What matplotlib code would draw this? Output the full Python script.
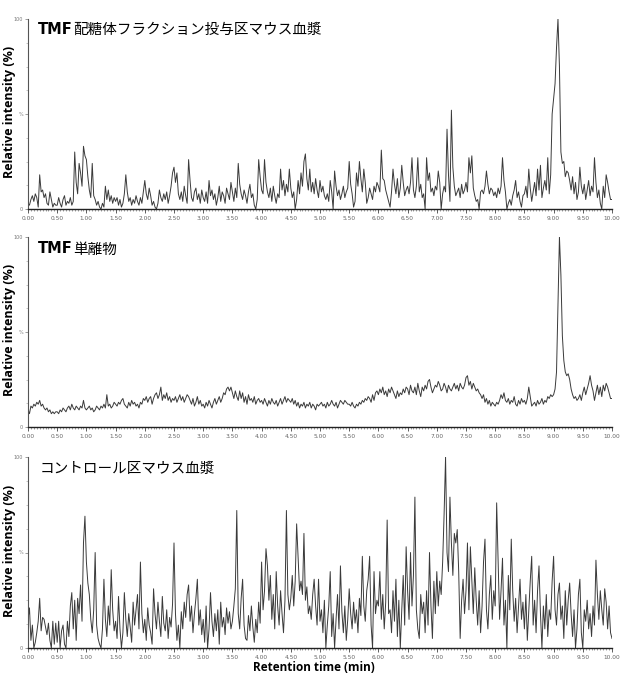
import numpy as np
import matplotlib
matplotlib.use("Agg")
import matplotlib.pyplot as plt
from matplotlib.ticker import MultipleLocator

# Retention time grid (min)
time_min = np.round(np.arange(0, 10.0001, 0.025), 3)

# Panel titles
titles = ["TMF配糖体フラクション投与区マウス血漿", "TMF単離物", "コントロール区マウス血漿"]

# Relative intensity (%) - TMF glycoside fraction, mouse plasma
tmf_fraction = [
    3, 2, 5, 7, 4, 8, 6, 1, 18, 9, 10, 6, 8, 3, 2, 9, 5, 1, 3, 2,
    2, 6, 3, 1, 5, 7, 2, 4, 3, 6, 2, 4, 30, 14, 8, 24, 19, 12, 33, 28,
    26, 17, 10, 6, 24, 7, 5, 2, 4, 1, 0, 3, 1, 12, 5, 10, 4, 7, 3, 6,
    4, 6, 2, 5, 1, 3, 8, 18, 9, 4, 6, 2, 5, 3, 7, 4, 2, 6, 3, 9,
    15, 8, 5, 11, 7, 2, 4, 1, 0, 3, 10, 6, 4, 8, 5, 9, 3, 7, 12, 19,
    22, 14, 19, 8, 5, 9, 4, 12, 7, 3, 26, 15, 6, 4, 9, 11, 5, 8, 3, 10,
    6, 4, 9, 3, 15, 7, 10, 5, 8, 2, 6, 12, 4, 9, 7, 3, 11, 8, 5, 14,
    9, 4, 11, 6, 24, 13, 8, 5, 10, 7, 3, 9, 13, 6, 8, 2, 0, 5, 26, 17,
    10, 8, 26, 14, 9, 6, 11, 4, 12, 7, 3, 8, 6, 21, 10, 15, 7, 13, 9, 21,
    11, 6, 9, 0, 5, 15, 8, 19, 12, 25, 29, 16, 10, 21, 9, 14, 8, 16, 10, 6,
    15, 9, 12, 7, 5, 8, 4, 15, 9, 0, 20, 12, 7, 10, 5, 8, 12, 6, 9, 11,
    25, 13, 8, 1, 4, 19, 12, 25, 16, 9, 21, 14, 3, 6, 11, 8, 5, 12, 9, 14,
    12, 9, 31, 16, 15, 10, 7, 4, 1, 9, 21, 13, 8, 16, 6, 11, 23, 14, 7, 10,
    12, 8, 14, 27, 10, 6, 12, 27, 9, 13, 6, 8, 0, 27, 15, 19, 9, 11, 7, 12,
    10, 20, 14, 0, 8, 12, 9, 42, 18, 4, 52, 22, 12, 7, 9, 11, 6, 13, 8, 10,
    14, 9, 27, 19, 28, 11, 7, 4, 5, 0, 9, 10, 8, 12, 20, 13, 8, 11, 10, 7,
    9, 6, 11, 8, 12, 27, 15, 9, 0, 3, 5, 2, 7, 10, 15, 6, 9, 4, 1, 7,
    8, 12, 6, 21, 11, 4, 9, 14, 7, 21, 10, 23, 6, 11, 15, 10, 27, 8, 18, 50,
    58, 66, 85, 100, 75, 30, 24, 25, 17, 20, 19, 15, 10, 17, 8, 14, 5, 9, 22, 12,
    8, 13, 5, 10, 15, 7, 12, 9, 27, 14, 6, 10, 3, 0, 12, 6, 18, 14, 9, 5,
    5,
]

# Relative intensity (%) - TMF isolate
tmf_isolate = [
    9, 7, 11, 10, 12, 11, 13, 12, 14, 11, 12, 10, 9, 10, 8, 9, 7, 8, 7, 8,
    8, 7, 9, 8, 10, 9, 8, 10, 11, 9, 12, 10, 9, 11, 10, 9, 11, 10, 14, 10,
    9, 10, 11, 9, 10, 8, 9, 11, 10, 9, 11, 10, 12, 10, 17, 11, 12, 10, 11, 13,
    12, 11, 13, 12, 14, 15, 12, 11, 10, 13, 11, 14, 12, 13, 11, 12, 10, 13, 12, 15,
    14, 16, 13, 15, 16, 12, 15, 17, 18, 15, 17, 21, 14, 17, 15, 18, 14, 16, 13, 15,
    14, 16, 13, 15, 17, 14, 16, 13, 15, 17, 16, 14, 12, 15, 11, 13, 16, 12, 14, 11,
    12, 10, 13, 11, 14, 12, 10, 13, 15, 12, 14, 16, 13, 15, 18, 17, 20, 21, 19, 21,
    18, 15, 19, 16, 14, 19, 15, 18, 13, 16, 12, 17, 14, 15, 13, 16, 12, 14, 15, 13,
    14, 12, 15, 13, 11, 14, 12, 15, 13, 12, 14, 11, 13, 15, 12, 14, 16, 13, 15, 14,
    13, 15, 12, 14, 11, 13, 10, 12, 11, 13, 10, 12, 11, 13, 10, 12, 11, 9, 12, 11,
    12, 13, 11, 12, 10, 13, 11, 12, 14, 12, 11, 13, 10, 12, 14, 13, 12, 14, 13, 12,
    12, 11, 13, 11, 10, 12, 11, 13, 12, 14, 13, 15, 14, 16, 15, 13, 17, 14, 18, 19,
    17, 20, 18, 21, 17, 19, 16, 20, 18, 21, 19, 17, 15, 19, 16, 18, 17, 20, 18, 21,
    20, 17, 22, 19, 18, 21, 17, 23, 19, 16, 21, 19, 22, 20, 24, 25, 21, 18, 20, 22,
    21, 24, 22, 19, 20, 23, 21, 18, 22, 20, 19, 21, 23, 20, 22, 19, 23, 21, 20, 22,
    26, 27, 22, 24, 20, 23, 21, 19, 20, 18, 17, 15, 17, 13, 15, 12, 14, 11, 13, 12,
    11, 13, 12, 14, 17, 15, 18, 14, 13, 15, 12, 14, 13, 16, 12, 11, 14, 12, 15, 13,
    14, 12, 15, 21, 16, 11, 12, 13, 11, 14, 12, 13, 15, 12, 14, 13, 16, 15, 17, 16,
    17, 20, 29, 65, 100, 80, 48, 35, 29, 27, 28, 25, 20, 17, 15, 16, 14, 15, 17, 14,
    18, 21, 17, 20, 23, 27, 22, 19, 14, 18, 22, 17, 21, 16, 22, 19, 23, 21, 18, 15,
    15,
]

# Relative intensity (%) - control mouse plasma
control = [
    15, 21, 4, 12, 0, 3, 8, 14, 26, 9, 16, 15, 11, 7, 13, 4, 0, 14, 2, 13,
    3, 14, 0, 9, 12, 2, 0, 14, 6, 22, 29, 10, 25, 4, 26, 18, 33, 14, 55, 69,
    45, 34, 28, 15, 8, 20, 50, 12, 5, 2, 0, 10, 36, 15, 6, 22, 12, 41, 20, 9,
    14, 5, 27, 10, 0, 8, 29, 15, 6, 18, 11, 3, 24, 12, 20, 28, 10, 45, 18, 8,
    15, 4, 21, 12, 8, 2, 31, 18, 10, 24, 14, 6, 27, 13, 9, 20, 5, 16, 11, 23,
    55, 18, 4, 12, 0, 19, 10, 24, 16, 28, 33, 14, 22, 8, 18, 26, 36, 12, 20, 7,
    15, 3, 22, 0, 10, 29, 14, 6, 18, 9, 20, 2, 24, 11, 16, 7, 21, 13, 19, 10,
    14, 22, 31, 72, 18, 10, 26, 36, 12, 5, 4, 17, 9, 22, 11, 3, 15, 8, 24, 13,
    45, 20, 30, 52, 43, 25, 38, 15, 28, 10, 40, 22, 12, 30, 18, 8, 25, 72, 28, 20,
    26, 38, 22, 35, 65, 48, 30, 35, 28, 60, 25, 32, 18, 22, 15, 28, 36, 22, 12, 36,
    14, 20, 8, 25, 0, 12, 22, 40, 6, 18, 0, 15, 28, 10, 43, 19, 8, 22, 4, 15,
    31, 18, 10, 24, 13, 20, 8, 26, 17, 48, 22, 14, 30, 36, 48, 12, 0, 40, 18, 25,
    22, 40, 15, 28, 10, 24, 67, 18, 20, 8, 30, 14, 36, 6, 25, 0, 20, 38, 12, 53,
    30, 15, 50, 22, 38, 79, 20, 10, 5, 28, 18, 24, 8, 30, 12, 50, 22, 5, 35, 18,
    40, 22, 35, 28, 45, 70, 100, 50, 40, 79, 55, 38, 60, 55, 62, 40, 5, 25, 36, 18,
    30, 55, 20, 53, 35, 18, 42, 25, 12, 30, 8, 22, 45, 57, 20, 10, 28, 38, 15, 30,
    22, 76, 45, 15, 30, 47, 12, 25, 0, 38, 20, 57, 30, 14, 26, 8, 22, 36, 15, 24,
    10, 28, 4, 20, 35, 48, 12, 25, 8, 30, 43, 18, 0, 22, 10, 28, 6, 20, 15, 35,
    48, 20, 12, 28, 34, 15, 22, 5, 30, 12, 25, 34, 18, 6, 20, 0, 10, 28, 36, 8,
    0, 20, 14, 25, 10, 18, 6, 22, 12, 46, 28, 15, 30, 20, 12, 31, 24, 10, 22, 8,
    5,
]

x_tick_values = np.arange(0, 10.01, 0.5)
x_tick_labels = [f"{v:.2f}" for v in x_tick_values]
y_tick_values = [0, 50, 100]
y_tick_labels = ["0", "%", "100"]

series = [tmf_fraction, tmf_isolate, control]

W, H = 621, 675
fig = plt.figure(figsize=(W / 100, H / 100), dpi=100)

# (top, bottom) pixel rows of each axes
panel_px = [(19, 209), (237, 427), (457, 648)]
left_px, right_px = 28, 612
title_font = ["DejaVu Sans", "Noto Sans CJK JP"]

for i, (vals, (top, bot)) in enumerate(zip(series, panel_px)):
    ax = fig.add_axes([left_px / W, 1 - bot / H, (right_px - left_px) / W, (bot - top) / H])
    ax.plot(time_min, vals, color="#3a3a3a", lw=0.7)
    ax.set_xlim(0, 10)
    ax.set_ylim(0, 100)
    for s in ("top", "right"):
        ax.spines[s].set_visible(False)
    ax.spines["left"].set_color("#555555")
    ax.spines["bottom"].set_color("#222222")
    ax.spines["left"].set_linewidth(0.8)
    ax.spines["bottom"].set_linewidth(1.0)
    ax.set_xticks(x_tick_values)
    ax.set_xticklabels(x_tick_labels)
    ax.xaxis.set_minor_locator(MultipleLocator(0.05))
    ax.set_yticks(y_tick_values)
    ax.set_yticklabels(y_tick_labels)
    ax.yaxis.set_minor_locator(MultipleLocator(12.5))
    ax.tick_params(axis="x", which="major", length=3, width=0.6, labelsize=4.2,
                   labelcolor="#666666", color="#444444", pad=2)
    ax.tick_params(axis="x", which="minor", length=1.5, width=0.4, color="#555555")
    ax.tick_params(axis="y", which="major", length=2.5, width=0.5, labelsize=3.5,
                   labelcolor="#777777", color="#777777", pad=1)
    ax.tick_params(axis="y", which="minor", length=1.5, width=0.4, color="#999999")

    # Panel title: bold Latin "TMF", CJK part
    t = titles[i]
    ty = 1 - (top + 10) / H if i != 1 else 1 - (top + 12) / H
    if t.startswith("TMF"):
        tx = fig.text(38 / W, ty, "TMF", fontsize=10.5, fontweight="bold",
                      family="DejaVu Sans", va="center", ha="left")
        fig.canvas.draw()
        bb = tx.get_window_extent()
        fig.text(bb.x1 / W + 0.001, ty, t[3:], fontsize=10.5,
                 family=title_font, va="center", ha="left")
    else:
        fig.text(40 / W, 1 - (top + 11) / H, t, fontsize=10.5,
                 family=title_font, va="center", ha="left")

    # y label
    fig.text(10 / W, 1 - ((top + bot) / 2 - 2) / H, "Relative intensity (%)",
             rotation=90, fontsize=9, fontweight="bold", family="Open Sans",
             va="center", ha="center")

fig.text((left_px + right_px) / 2 / W - 0.01, 1 / H, "Retention time (min)",
         fontsize=8.5, fontweight="bold", family="Open Sans", va="bottom", ha="center")

fig.savefig("out.png", dpi=100)
